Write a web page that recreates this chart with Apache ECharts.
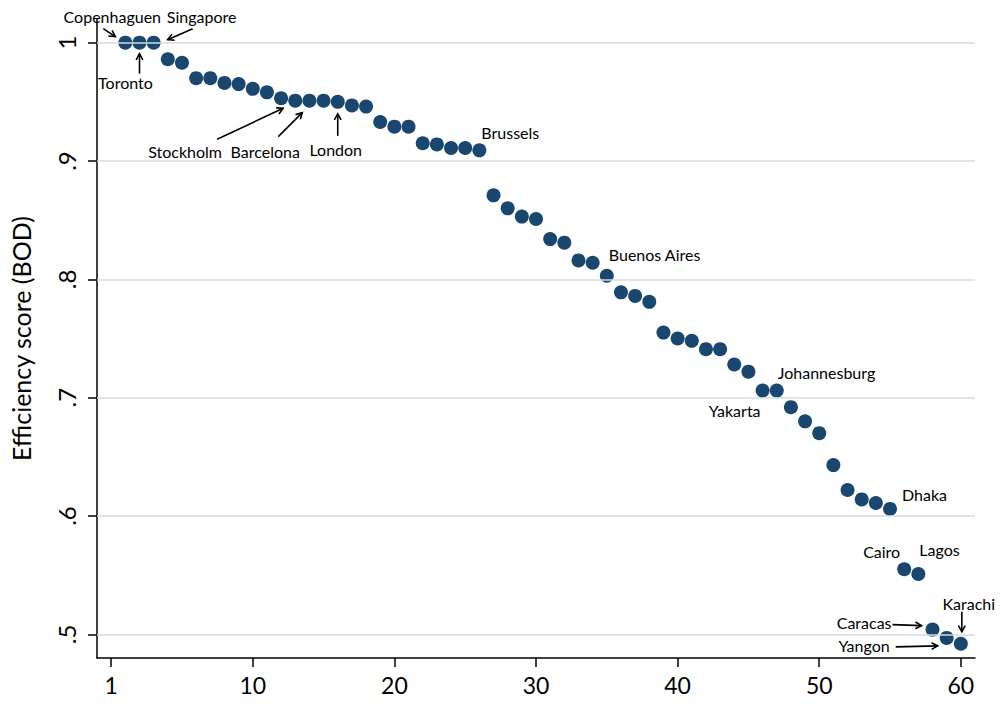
<!DOCTYPE html>
<html><head><meta charset="utf-8">
<script src="https://cdn.jsdelivr.net/npm/echarts@6/dist/echarts.min.js"></script>
<style>html,body{margin:0;padding:0;background:#fff}#c{width:1000px;height:704px}</style>
</head><body><div id="c"></div>
<script>
// ---- data ----
const ranks = [1,2,3,4,5,6,7,8,9,10,11,12,13,14,15,16,17,18,19,20,21,22,23,24,25,26,27,28,29,30,
  31,32,33,34,35,36,37,38,39,40,41,42,43,44,45,46,47,48,49,50,51,52,53,54,55,56,57,58,59,60];
const scores = [1.000,1.000,1.000,0.986,0.983,0.970,0.970,0.966,0.965,0.961,
  0.958,0.953,0.951,0.951,0.951,0.950,0.947,0.946,0.933,0.929,
  0.929,0.915,0.914,0.911,0.911,0.909,0.871,0.860,0.853,0.851,
  0.834,0.831,0.816,0.814,0.803,0.789,0.786,0.781,0.755,0.750,
  0.748,0.741,0.741,0.728,0.722,0.706,0.706,0.692,0.680,0.670,
  0.643,0.622,0.614,0.611,0.606,0.555,0.551,0.504,0.497,0.492];
const xTickValues = [0,10,20,30,40,50,60];
const xTickLabels = ['1','10','20','30','40','50','60'];
const yTickValues = [0.5,0.6,0.7,0.8,0.9,1.0];
const yTickLabels = ['.5','.6','.7','.8','.9','1'];
const yTitle = 'Efficiency score (BOD)';
const cityNames = ['Copenhaguen','Singapore','Toronto','Stockholm','Barcelona','London','Brussels',
  'Buenos Aires','Yakarta','Johannesburg','Dhaka','Cairo','Lagos','Caracas','Yangon','Karachi'];
const cityRanks = [1,3,2,12,13,16,26,35,46,47,55,56,57,58,59,60];

// ---- annotation layout (pixel offsets relative to the point) ----
const annLayout = {
  'Copenhaguen': {t:[-13,-26], a:'center', arrow:[[-22,-14],[-10,-6]]},
  'Singapore':   {t:[48,-26], a:'center', arrow:[[39,-14],[14,-3]]},
  'Toronto':     {t:[-14,40], a:'center', arrow:[[0,31],[0,11]]},
  'Stockholm':   {t:[-96,53], a:'center', arrow:[[-64,41],[2,10]]},
  'Barcelona':   {t:[-30,51], a:'center', arrow:[[-17,36],[7,12]]},
  'London':      {t:[-2,48], a:'center', arrow:[[0,34],[0,12]]},
  'Brussels':    {t:[2,-18], a:'left'},
  'Buenos Aires':{t:[2,-21], a:'left'},
  'Yakarta':     {t:[-2,20], a:'right'},
  'Johannesburg':{t:[1,-18], a:'left'},
  'Dhaka':       {t:[12,-14], a:'left'},
  'Cairo':       {t:[-4,-18], a:'right'},
  'Lagos':       {t:[1,-24], a:'left'},
  'Caracas':     {t:[-41,-7], a:'right', arrow:[[-40,-5],[-11,-4]]},
  'Yangon':      {t:[-57,8], a:'right', arrow:[[-51,9],[-9,8]]},
  'Karachi':     {t:[8,-40], a:'center', arrow:[[1,-32],[1,-12]]}
};

const FONT = 'Lato, "DejaVu Sans", sans-serif';
const chart = echarts.init(document.getElementById('c'), null, {renderer:'svg'});
chart.setOption({
  animation:false,
  backgroundColor:'#fff',
  grid:{left:97, right:25, top:19, bottom:46},
  xAxis:{
    type:'value', min:-1, max:61,
    axisLine:{show:true, onZero:false, lineStyle:{color:'#000', width:1.5}},
    axisTick:{show:true, length:9, lineStyle:{color:'#000', width:1.5}, customValues:xTickValues},
    axisLabel:{customValues:xTickValues, margin:15, fontSize:23, color:'#000', fontFamily:FONT,
      formatter:v=>xTickLabels[xTickValues.indexOf(v)]},
    splitLine:{show:false}
  },
  yAxis:{
    type:'value', min:0.48, max:1.02,
    name:yTitle, nameLocation:'middle', nameGap:64, nameRotate:90,
    nameTextStyle:{fontSize:25, color:'#000', fontFamily:FONT},
    axisLine:{show:true, onZero:false, lineStyle:{color:'#000', width:1.5}},
    axisTick:{show:true, length:9, lineStyle:{color:'#000', width:1.5}, customValues:yTickValues},
    axisLabel:{customValues:yTickValues, rotate:90, margin:19, fontSize:24, color:'#000', fontFamily:FONT,
      formatter:v=>{let i=yTickValues.findIndex(t=>Math.abs(t-v)<1e-6);return i>=0?yTickLabels[i]:'';}},
    splitLine:{show:false}
  },
  series:[
    {type:'scatter', data:[], z:1, silent:true,
      markLine:{silent:true, symbol:'none', label:{show:false},
        lineStyle:{color:'#d3dbe0', width:1.6, type:'solid'},
        data:yTickValues.map(v=>({yAxis:v}))}},
    {type:'scatter', z:3, symbolSize:14, silent:true,
      itemStyle:{color:'#1a476f', opacity:1},
      data:ranks.map((r,i)=>[r, scores[i]])}
  ]
});

// annotations anchored to data points
const g = [];
cityNames.forEach((name, k) => {
  const r = cityRanks[k];
  const p = chart.convertToPixel({seriesIndex:1}, [r, scores[ranks.indexOf(r)]]);
  const L = annLayout[name];
  g.push({type:'text', silent:true, z:10, style:{text:name, x:p[0]+L.t[0], y:p[1]+L.t[1],
    font:'16px ' + FONT, fill:'#000', align:L.a, textAlign:L.a, verticalAlign:'middle', textVerticalAlign:'middle'}});
  if (L.arrow) {
    const x1=p[0]+L.arrow[0][0], y1=p[1]+L.arrow[0][1], x2=p[0]+L.arrow[1][0], y2=p[1]+L.arrow[1][1];
    const ang = Math.atan2(y2-y1, x2-x1), h=7, w=0.5;
    g.push({type:'polyline', silent:true, z:10, shape:{points:[[x1,y1],[x2,y2]]}, style:{stroke:'#000', lineWidth:1.6, fill:null}});
    g.push({type:'polyline', silent:true, z:10, shape:{points:[
      [x2-h*Math.cos(ang-w), y2-h*Math.sin(ang-w)],[x2,y2],[x2-h*Math.cos(ang+w), y2-h*Math.sin(ang+w)]]},
      style:{stroke:'#000', lineWidth:1.6, fill:null}});
  }
});
chart.setOption({graphic:g});
</script></body></html>
